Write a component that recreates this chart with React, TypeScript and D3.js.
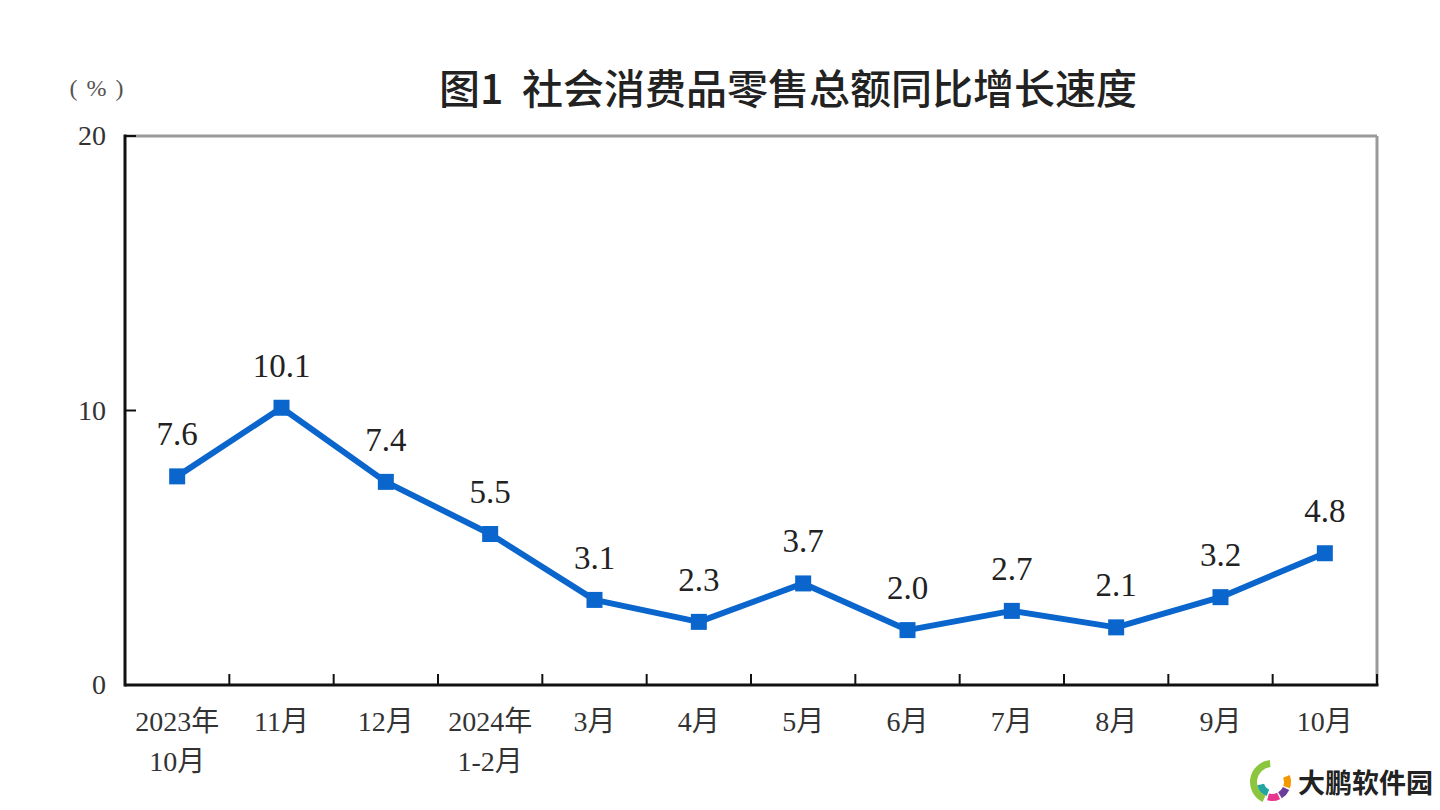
import { useEffect, useRef } from 'react';
import * as d3 from 'd3';

const months = ['2023年\n10月', '11月', '12月', '2024年\n1-2月', '3月', '4月', '5月', '6月', '7月', '8月', '9月', '10月'];
const growth = [7.6, 10.1, 7.4, 5.5, 3.1, 2.3, 3.7, 2.0, 2.7, 2.1, 3.2, 4.8];
const yTicks = [0, 10, 20];

const W = 1440;
const H = 810;
const serif = '"Liberation Serif", "Noto Sans CJK SC", serif';

export default function App() {
  const svgRef = useRef<SVGSVGElement>(null);

  useEffect(() => {
    const svg = d3.select(svgRef.current);
    svg.selectAll('*').remove();

    const left = 125, right = 1377, top = 136, bottom = 685;

    const x = d3.scaleBand<number>().domain(d3.range(months.length)).range([left, right]);
    const y = d3.scaleLinear().domain([0, 20]).range([bottom, top]);
    const cx = (i: number) => (x(i) as number) + x.bandwidth() / 2;

    // frame: top & right grey, left & bottom black
    svg.append('line').attr('x1', left).attr('x2', right).attr('y1', top).attr('y2', top)
      .attr('stroke', '#9a9a9a').attr('stroke-width', 3);
    svg.append('line').attr('x1', right).attr('x2', right).attr('y1', top).attr('y2', bottom)
      .attr('stroke', '#9a9a9a').attr('stroke-width', 3);
    svg.append('line').attr('x1', left).attr('x2', left).attr('y1', top - 1.5).attr('y2', bottom + 1.5)
      .attr('stroke', '#111').attr('stroke-width', 3);
    svg.append('line').attr('x1', left).attr('x2', right + 1.5).attr('y1', bottom).attr('y2', bottom)
      .attr('stroke', '#111').attr('stroke-width', 3);

    // y ticks
    const yg = svg.append('g');
    yg.selectAll('line').data(yTicks).join('line')
      .attr('x1', left).attr('x2', left + 11)
      .attr('y1', (d) => y(d)).attr('y2', (d) => y(d))
      .attr('stroke', '#111').attr('stroke-width', 2);
    yg.selectAll('text').data(yTicks).join('text')
      .attr('x', 106).attr('y', (d) => y(d) + 9)
      .attr('text-anchor', 'end')
      .attr('font-family', serif).attr('font-size', 28).attr('fill', '#333')
      .text((d) => d);

    // x ticks (band boundaries)
    const bounds = d3.range(1, months.length + 1).map((i) => left + i * x.bandwidth());
    svg.append('g').selectAll('line').data(bounds).join('line')
      .attr('x1', (d) => d).attr('x2', (d) => d)
      .attr('y1', bottom).attr('y2', bottom - 11)
      .attr('stroke', '#111').attr('stroke-width', 2);

    // x labels
    const xl = svg.append('g');
    months.forEach((m, i) => {
      const t = xl.append('text')
        .attr('text-anchor', 'middle')
        .attr('font-family', serif).attr('font-size', 28).attr('fill', '#333');
      m.split('\n').forEach((line, k) => {
        t.append('tspan').attr('x', cx(i)).attr('y', 731 + k * 40).text(line);
      });
    });

    // line
    const line = d3.line<number>().x((_, i) => cx(i)).y((d) => y(d));
    svg.append('path').datum(growth)
      .attr('d', line)
      .attr('fill', 'none').attr('stroke', '#0a66cc').attr('stroke-width', 6)
      .attr('stroke-linejoin', 'round');

    // markers
    svg.append('g').selectAll('rect').data(growth).join('rect')
      .attr('x', (_, i) => cx(i) - 8).attr('y', (d) => y(d) - 8)
      .attr('width', 16).attr('height', 16).attr('fill', '#0a66cc');

    // value labels
    svg.append('g').selectAll('text').data(growth).join('text')
      .attr('x', (_, i) => cx(i)).attr('y', (d) => y(d) - 31)
      .attr('text-anchor', 'middle')
      .attr('font-family', serif).attr('font-size', 33).attr('fill', '#222')
      .text((d) => d.toFixed(1));

    // unit + title
    svg.append('text').attr('x', 101).attr('y', 96).attr('text-anchor', 'middle')
      .attr('font-family', serif).attr('font-size', 24).attr('fill', '#555')
      .attr('letter-spacing', 9)
      .text('(%)');
    svg.append('text').attr('x', 788).attr('y', 104).attr('text-anchor', 'middle')
      .attr('font-family', '"Noto Sans CJK SC", sans-serif').attr('font-size', 41)
      .attr('font-weight', 500).attr('fill', '#222')
      .style('white-space', 'pre')
      .text('图1  社会消费品零售总额同比增长速度');

    // watermark
    const wm = svg.append('g').attr('transform', 'translate(1272,782)');
    const arcs = [
      { r: 22, a0: -2.7, a1: -0.1, c: '#8cc63f' },
      { r: 15, a0: 3.5, a1: 4.5, c: '#22a5a0' },
      { r: 19, a0: 2.7, a1: 3.4, c: '#e8368f' },
      { r: 19, a0: 2.0, a1: 2.6, c: '#6a3d9a' },
      { r: 19, a0: 1.2, a1: 1.9, c: '#f39800' },
    ];
    arcs.forEach((a) => {
      wm.append('path')
        .attr('d', d3.arc()({ innerRadius: a.r - 7, outerRadius: a.r, startAngle: a.a0, endAngle: a.a1 }) as string)
        .attr('fill', a.c);
    });
    svg.append('text').attr('x', 1298).attr('y', 793)
      .attr('font-family', '"Noto Sans CJK SC", sans-serif').attr('font-size', 27)
      .attr('font-weight', 700).attr('fill', '#222')
      .text('大鹏软件园');
  }, []);

  return (
    <svg ref={svgRef} width={W} height={H}
      style={{ position: 'absolute', left: 0, top: 0, background: '#fff' }} />
  );
}
